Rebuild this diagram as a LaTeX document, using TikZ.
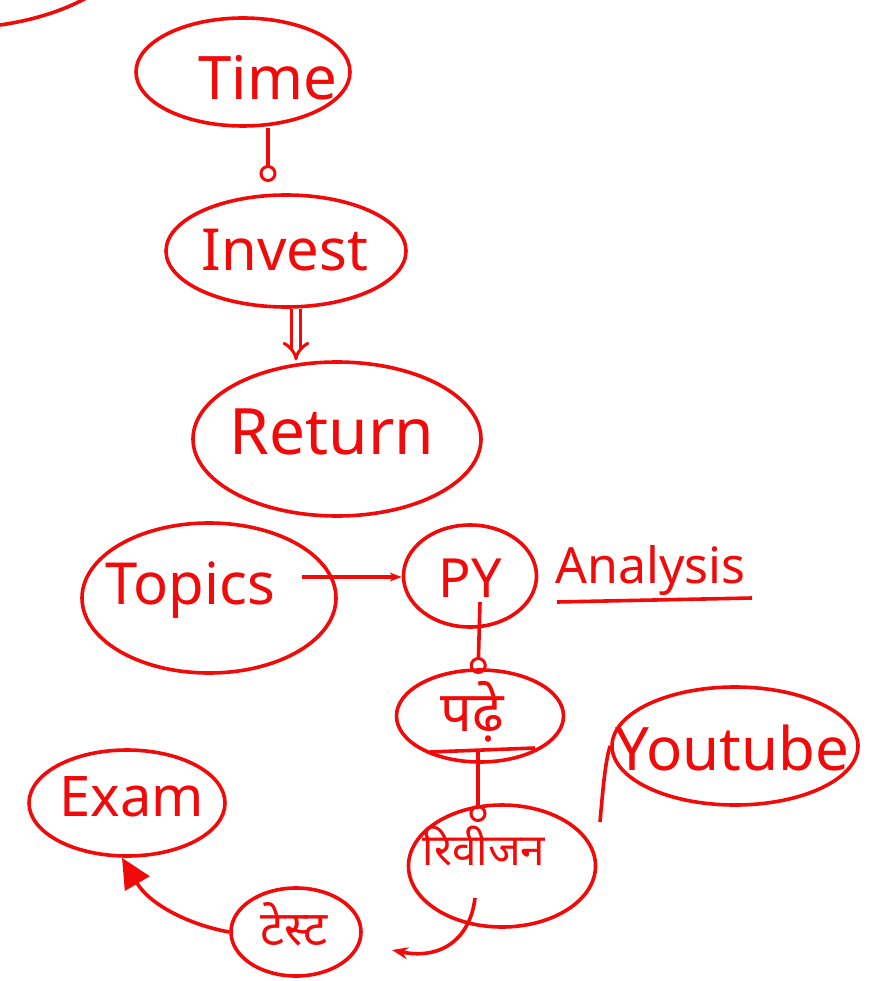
\documentclass[tikz,border=0pt]{standalone}
\usepackage{fontspec}
\setmainfont{Noto Sans}
\newfontfamily\devfont[Script=Devanagari]{Noto Sans}
\usetikzlibrary{shapes.geometric,arrows.meta}
\definecolor{ink}{RGB}{240,10,10}
\tikzset{
  bub/.style={draw=ink, ellipse, line width=3.6pt, inner sep=0pt},
  txt/.style={text=ink, inner sep=0pt},
  con/.style={draw=ink, line width=3.6pt},
  loopt/.style={-{Circle[open,length=17pt,width=17pt,line width=3pt]}},
}
\begin{document}
\begin{tikzpicture}[x=1pt,y=-1pt]
\useasboundingbox[fill=white] (0,0) rectangle (872,981);
% partial shape at top-left
\draw[con] (0,25) .. controls (35,20) and (65,10) .. (88,-3);
% ellipses
\node[bub, minimum width=214pt, minimum height=108pt] (time) at (243,72) {};
\node[bub, minimum width=240pt, minimum height=112pt] (invest) at (286,251) {};
\node[bub, minimum width=288pt, minimum height=154pt] (return) at (337,439) {};
\node[bub, minimum width=254pt, minimum height=150pt] (topics) at (209,598) {};
\node[bub, minimum width=133pt, minimum height=102pt] (py) at (470,576) {};
\node[bub, minimum width=167pt, minimum height=92pt] (padhe) at (480,716) {};
\node[bub, minimum width=246pt, minimum height=118pt] (youtube) at (735,746) {};
\node[bub, minimum width=187pt, minimum height=122pt] (revision) at (502,866) {};
\node[bub, minimum width=130pt, minimum height=88pt] (test) at (296,932) {};
\node[bub, minimum width=196pt, minimum height=106pt] (exam) at (127,803) {};
% texts
\node[txt] (ttime) at (268,78) {\fontsize{60}{64}\selectfont Time};
\node[txt] (tinvest) at (285,250) {\fontsize{58}{62}\selectfont Invest};
\node[txt] (treturn) at (332,432) {\fontsize{64}{68}\selectfont Return};
\node[txt] (ttopics) at (190,590) {\fontsize{58}{62}\selectfont Topics};
\node[txt] (tpy) at (470,578) {\fontsize{54}{58}\selectfont PY};
\node[txt, anchor=west] (analysis) at (555,570) {\fontsize{50}{54}\selectfont Analysis};
\coordinate (ul1) at (557,602);
\coordinate (ul2) at (752,598);
\node[txt] (tpadhe) at (472,712) {\devfont\fontsize{56}{60}\selectfont पढ़े};
\coordinate (pu1) at (430,752);
\coordinate (pu2) at (535,748);
\node[txt] (tyoutube) at (732,748) {\fontsize{60}{64}\selectfont Youtube};
\node[txt] (trevision) at (484,846) {\devfont\fontsize{44}{48}\selectfont रिवीजन};
\node[txt] (ttest) at (294,924) {\devfont\fontsize{48}{52}\selectfont टेस्ट};
\node[txt] (texam) at (132,797) {\fontsize{56}{60}\selectfont Exam};
% connectors
\draw[con, loopt] (time.south -| 268,0) -- (268,182);
\draw[con, double=white, double distance=6pt, line width=3pt, -{Implies[length=14pt]}] (invest.south -| 296,0) -- (return.north -| 296,0);
\draw[con, -{Stealth[length=12pt]}] (topics.east |- 0,577) ++(-36,0) -- (py.west |- 0,577);
\draw[con] (ul1) -- (ul2);
\draw[con, loopt] (480,602) -- (478,674);
\draw[con] (pu1) -- (pu2);
\draw[con, loopt] (478,752) -- (478,822);
\coordinate (ytail) at (600,822);
\draw[con] (youtube.west) .. controls (605,760) and (602,800) .. (ytail);
\coordinate (revend) at (392,950);
\draw[con, -{Stealth[length=16pt,open]}] (475,898) .. controls (470,940) and (440,960) .. (revend);
\draw[con, -{Triangle[length=30pt,width=28pt]}] (test.west) .. controls (190,925) and (150,905) .. (exam.south -| 122,0);
\end{tikzpicture}
\end{document}
